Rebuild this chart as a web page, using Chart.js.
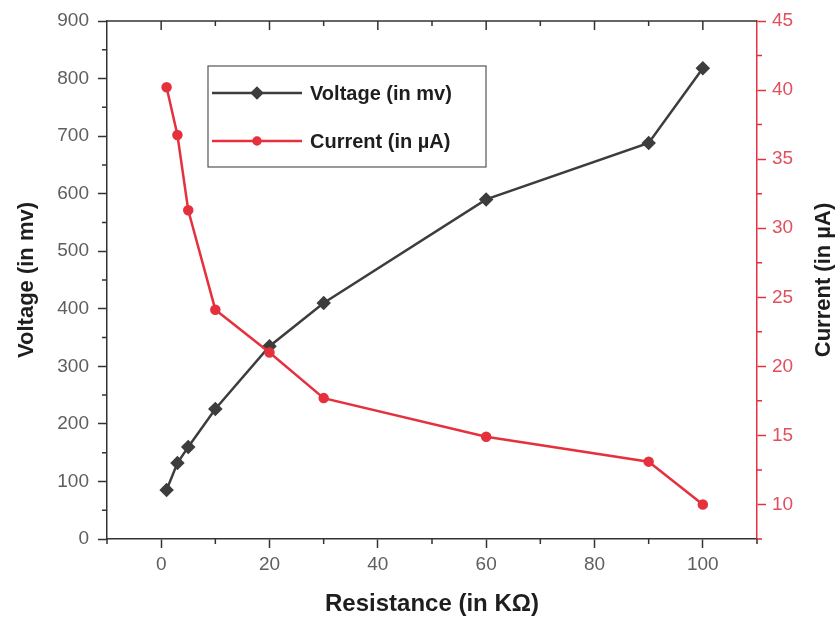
<!DOCTYPE html>
<html>
<head>
<meta charset="utf-8">
<title>Voltage and current vs resistance</title>
<script src="https://cdn.jsdelivr.net/npm/chart.js@4/dist/chart.umd.min.js"></script>
<style>
  html, body { margin: 0; padding: 0; background: #fff; }
  canvas { display: block; }
</style>
</head>
<body>
<canvas id="chart" width="837" height="622"></canvas>
<script>
// data
const resistance = [1, 3, 5, 10, 20, 30, 60, 90, 100];
const voltage = [85, 132, 160, 226, 335, 410, 590, 688, 818];
const current = [40.2, 36.75, 31.3, 24.1, 21.0, 17.7, 14.9, 13.1, 10.0];

const xTicks = [0, 20, 40, 60, 80, 100];
const xMinor = [-10, 10, 30, 50, 70, 90, 110];
const vTicks = [0, 100, 200, 300, 400, 500, 600, 700, 800, 900];
const vMinor = [50, 150, 250, 350, 450, 550, 650, 750, 850];
const iTicks = [10, 15, 20, 25, 30, 35, 40, 45];
const iMinor = [7.5, 12.5, 17.5, 22.5, 27.5, 32.5, 37.5, 42.5];

const seriesNames = ["Voltage (in mv)", "Current (in \u00b5A)"];
const rightTitle = "Current (in \u00b5A)";

const DARK = "#3d3d3d";
const RED = "#e5313d";
const AXIS = "#333333";
const TICK_TEXT = "#5e5e5e";
const RED_TEXT = "#e0505c";
const FONT = "'Liberation Sans', Arial, sans-serif";

function pts(xs, ys) {
    return xs.map((x, i) => ({ x: x, y: ys[i] }));
}

// minor ticks, top frame line, top ticks and the right axis title (reads bottom to top)
const framePlugin = {
    id: "frame",
    afterDraw(chart) {
        const ctx = chart.ctx;
        const a = chart.chartArea;
        const sx = chart.scales.x, sy = chart.scales.y, sy1 = chart.scales.y1;
        ctx.save();
        ctx.lineWidth = 1.5;
        ctx.strokeStyle = AXIS;
        ctx.beginPath();
        ctx.moveTo(a.left, a.top);
        ctx.lineTo(a.right, a.top);
        xTicks.forEach(v => {
            const px = sx.getPixelForValue(v);
            ctx.moveTo(px, a.top); ctx.lineTo(px, a.top + 9);
        });
        xMinor.forEach(v => {
            const px = sx.getPixelForValue(v);
            if (px <= a.left + 1 || px >= a.right - 1) return;
            ctx.moveTo(px, a.top); ctx.lineTo(px, a.top + 5);
        });
        xMinor.forEach(v => {
            const px = sx.getPixelForValue(v);
            ctx.moveTo(px, a.bottom); ctx.lineTo(px, a.bottom + 5);
        });
        vMinor.forEach(v => {
            const py = sy.getPixelForValue(v);
            ctx.moveTo(a.left, py); ctx.lineTo(a.left - 5, py);
        });
        ctx.stroke();

        ctx.strokeStyle = RED;
        ctx.beginPath();
        iMinor.forEach(v => {
            const py = sy1.getPixelForValue(v);
            ctx.moveTo(a.right, py); ctx.lineTo(a.right + 5, py);
        });
        ctx.stroke();

        ctx.translate(sy1.right - 13, (a.top + a.bottom) / 2);
        ctx.rotate(-Math.PI / 2);
        ctx.fillStyle = "#1e1e1e";
        ctx.font = "bold 22px " + FONT;
        ctx.textAlign = "center";
        ctx.textBaseline = "middle";
        ctx.fillText(rightTitle, 0, 0);
        ctx.restore();
    }
};

// legend box inside the plot
const legendPlugin = {
    id: "boxLegend",
    afterDatasetsDraw(chart) {
        const ctx = chart.ctx;
        const left = 208, top = 66, w = 278, h = 101;
        ctx.save();
        ctx.fillStyle = "#fff";
        ctx.fillRect(left, top, w, h);
        ctx.strokeStyle = "#555";
        ctx.lineWidth = 1.2;
        ctx.strokeRect(left, top, w, h);

        const rows = [
            { y: 93, color: DARK, style: "rectRot", r: 5 },
            { y: 141, color: RED, style: "circle", r: 3.5 }
        ];
        rows.forEach((row, i) => {
            ctx.strokeStyle = row.color;
            ctx.lineWidth = 2.5;
            ctx.beginPath();
            ctx.moveTo(left + 4, row.y);
            ctx.lineTo(left + 94, row.y);
            ctx.stroke();
            ctx.fillStyle = row.color;
            Chart.helpers.drawPoint(ctx, { pointStyle: row.style, radius: row.r, borderWidth: 1 }, left + 49, row.y);
            ctx.fill();
            ctx.fillStyle = "#1e1e1e";
            ctx.font = "bold 20px " + FONT;
            ctx.textBaseline = "middle";
            ctx.fillText(seriesNames[i], left + 102, row.y + 1);
        });
        ctx.restore();
    }
};

new Chart(document.getElementById("chart"), {
    type: "line",
    data: {
        datasets: [
            {
                label: seriesNames[0],
                data: pts(resistance, voltage),
                yAxisID: "y",
                borderColor: DARK,
                backgroundColor: DARK,
                borderWidth: 2.5,
                pointStyle: "rectRot",
                pointRadius: 5.5,
                order: 2
            },
            {
                label: seriesNames[1],
                data: pts(resistance, current),
                yAxisID: "y1",
                borderColor: RED,
                backgroundColor: RED,
                borderWidth: 2.5,
                pointStyle: "circle",
                pointRadius: 4,
                order: 1
            }
        ]
    },
    options: {
        responsive: false,
        animation: false,
        layout: { padding: { top: 21, left: 0, right: 0, bottom: 0 } },
        plugins: {
            legend: { display: false },
            tooltip: { enabled: false }
        },
        scales: {
            x: {
                type: "linear",
                min: -10,
                max: 110,
                afterBuildTicks: s => { s.ticks = xTicks.map(v => ({ value: v })); },
                afterFit: s => { s.height = 83; },
                border: { color: AXIS, width: 1.5 },
                grid: { drawOnChartArea: false, tickLength: 9, tickColor: AXIS, tickWidth: 1.5 },
                ticks: { color: TICK_TEXT, font: { family: FONT, size: 19 }, padding: 5, maxRotation: 0 },
                title: {
                    display: true,
                    text: "Resistance (in K\u03a9)",
                    color: "#1e1e1e",
                    font: { family: FONT, size: 24, weight: "bold" },
                    padding: { top: 0, bottom: 3 }
                }
            },
            y: {
                position: "left",
                min: 0,
                max: 900,
                afterBuildTicks: s => { s.ticks = vTicks.map(v => ({ value: v })); },
                afterFit: s => { s.width = 107; },
                border: { color: AXIS, width: 1.5 },
                grid: { drawOnChartArea: false, tickLength: 9, tickColor: AXIS, tickWidth: 1.5 },
                ticks: { color: TICK_TEXT, font: { family: FONT, size: 19 }, padding: 9 },
                title: {
                    display: true,
                    text: "Voltage (in mv)",
                    color: "#1e1e1e",
                    font: { family: FONT, size: 22, weight: "bold" },
                    padding: { top: 14, bottom: 0 }
                }
            },
            y1: {
                position: "right",
                min: 7.5,
                max: 45,
                afterBuildTicks: s => { s.ticks = iTicks.map(v => ({ value: v })); },
                afterFit: s => { s.width = 80; },
                border: { color: RED, width: 1.5 },
                grid: { drawOnChartArea: false, tickLength: 9, tickColor: RED, tickWidth: 1.5 },
                ticks: { color: RED_TEXT, font: { family: FONT, size: 19 }, padding: 6 },
                title: { display: false }
            }
        }
    },
    plugins: [framePlugin, legendPlugin]
});
</script>
</body>
</html>
